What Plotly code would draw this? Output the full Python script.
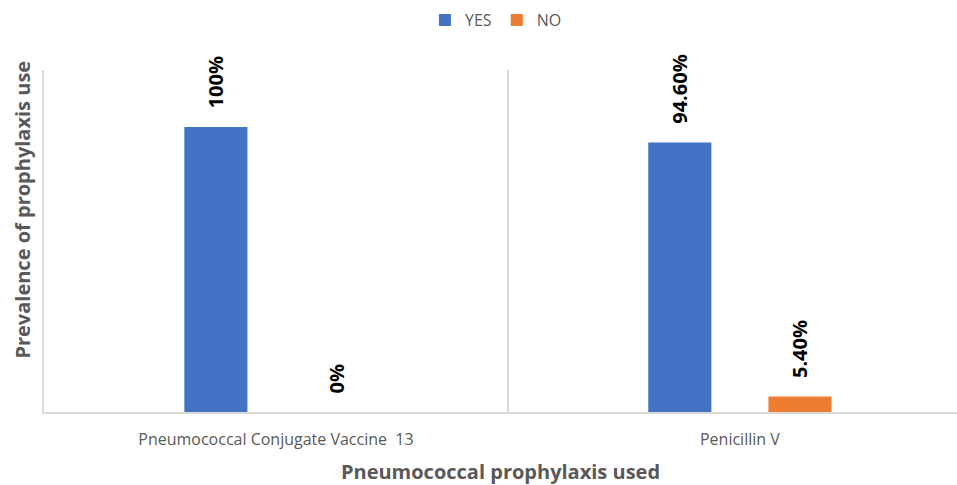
import plotly.graph_objects as go

categories = ["Pneumococcal Conjugate Vaccine  13", "Penicillin V"]
yes_values = [100, 94.6]
no_values = [0, 5.4]
yes_labels = ["100%", "94.60%"]
no_labels = ["0%", "5.40%"]

BLUE = "#4472C4"
ORANGE = "#ED7D31"
GRAY = "#595959"
LINE = "#D9D9D9"
PAD = "\u00a0\u00a0\u00a0"

label_font = dict(family="Open Sans", size=20, color="black", weight="bold")

fig = go.Figure()
fig.add_trace(go.Bar(
    name="YES", x=categories, y=yes_values, marker=dict(color=BLUE, line=dict(width=0)),
    text=[PAD + t for t in yes_labels], textposition="outside", textangle=-90,
    textfont=label_font, constraintext="none", cliponaxis=False,
))
fig.add_trace(go.Bar(
    name="NO", x=categories, y=no_values, marker=dict(color=ORANGE, line=dict(width=0)),
    text=[PAD + t for t in no_labels], textposition="outside", textangle=-90,
    textfont=label_font, constraintext="none", cliponaxis=False,
))

fig.update_layout(
    width=957, height=485,
    margin=dict(l=44, r=0, t=70, b=73, autoexpand=False),
    paper_bgcolor="white", plot_bgcolor="white",
    barmode="group", bargap=0.482, bargroupgap=0.475,
    font=dict(family="Open Sans", color=GRAY),
    showlegend=True,
    legend=dict(orientation="h", x=0.495, xanchor="center", y=1.146, yanchor="middle",
                font=dict(size=16, color=GRAY), itemwidth=30, tracegroupgap=0),
)
fig.update_xaxes(
    type="category", range=[-0.5, 1.468], tickson="boundaries", automargin=False,
    showgrid=True, gridcolor=LINE, gridwidth=1.5,
    showline=True, linecolor=LINE, linewidth=2,
    ticks="", ticklabelstandoff=12,
    tickfont=dict(size=16, color=GRAY),
    title=dict(text="Pneumococcal prophylaxis used", standoff=16,
               font=dict(size=20, color=GRAY, weight="bold")),
)
fig.update_yaxes(
    range=[0, 120], showticklabels=False, showgrid=False, zeroline=False,
    showline=True, linecolor=LINE, linewidth=2, automargin=False,
)
fig.add_annotation(
    text="Prevalence of prophylaxis use", xref="paper", yref="paper",
    x=-0.024, y=0.592, xanchor="center", yanchor="middle", textangle=-90, showarrow=False,
    font=dict(size=20, color=GRAY, weight="bold", family="Open Sans"),
)

fig.write_html(
    "out.html",
    config={"displayModeBar": False},
    post_script="document.body.style.margin='0';document.body.style.overflow='hidden';",
)
